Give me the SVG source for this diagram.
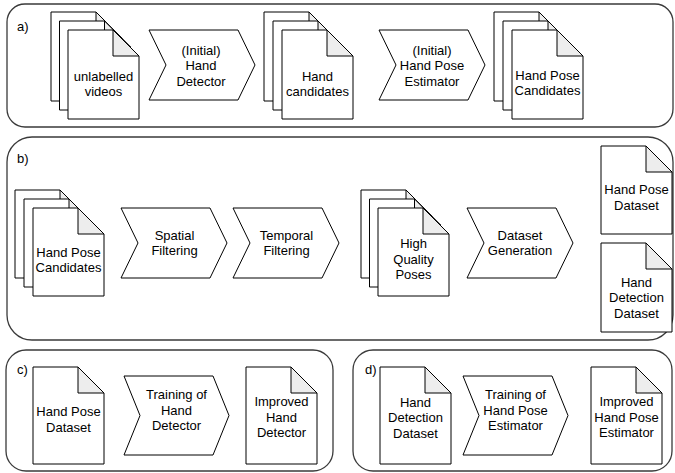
<svg xmlns="http://www.w3.org/2000/svg" width="675" height="473" viewBox="0 0 675 473">
<style>
.panel{fill:#fff;stroke:#3a3a3a;stroke-width:1.3}
.doc{fill:#fff;stroke:#000;stroke-width:1}
.fold{fill:#ededed;stroke:#000;stroke-width:1;stroke-linejoin:round}
.chev{fill:#fff;stroke:#000;stroke-width:1}
text{font-family:"Liberation Sans",Arial,sans-serif;font-size:13px;fill:#000;text-anchor:middle}
.lbl{text-anchor:start}
</style>
<defs>
<g id="docA">
<path class="doc" d="M0,0H45L71,26V89H0Z"/>
<path class="fold" d="M45,0V26H71Z"/>
</g>
<g id="docB">
<path class="doc" d="M0,0H45L71,26V88H0Z"/>
<path class="fold" d="M45,0V26H71Z"/>
</g>
<g id="docC">
<path class="doc" d="M0,0H45L71,26V97H0Z"/>
<path class="fold" d="M45,0V26H71Z"/>
</g>
<path id="chevA" class="chev" d="M0,0H89L106,35L89,70H0L17,35Z"/>
<path id="chevC" class="chev" d="M0,0H89L105,39.5L89,79H0L16,39.5Z"/>
</defs>

<g id="panel-a">
<rect class="panel" x="7" y="4" width="666" height="123" rx="18" ry="18"/>
<text class="lbl" x="17" y="31">a)</text>
</g>
<g id="panel-b">
<rect class="panel" x="7" y="137" width="666" height="203" rx="25" ry="25"/>
<text class="lbl" x="17" y="163">b)</text>
</g>
<g id="panel-c">
<rect class="panel" x="6" y="350" width="327" height="121" rx="20" ry="20"/>
<text class="lbl" x="17" y="374">c)</text>
</g>
<g id="panel-d">
<rect class="panel" x="353" y="350" width="319" height="121" rx="20" ry="20"/>
<text class="lbl" x="365" y="374">d)</text>
</g>

<g id="connectors"></g>

<g id="a-unlabelled-videos">
<use href="#docA" x="51" y="12"/>
<use href="#docA" x="59.5" y="21"/>
<use href="#docA" x="68" y="30"/>
<text x="103.5" y="81">unlabelled</text>
<text x="103.5" y="96">videos</text>
</g>
<g id="a-hand-detector">
<use href="#chevA" x="149" y="30"/>
<text x="201" y="54.5">(Initial)</text>
<text x="201" y="70">Hand</text>
<text x="201" y="85.5">Detector</text>
</g>
<g id="a-hand-candidates">
<use href="#docA" x="264" y="12"/>
<use href="#docA" x="273" y="21"/>
<use href="#docA" x="282" y="30"/>
<text x="317.5" y="81">Hand</text>
<text x="317.5" y="96">candidates</text>
</g>
<g id="a-hand-pose-estimator">
<use href="#chevA" x="379" y="30"/>
<text x="432" y="54.5">(Initial)</text>
<text x="432" y="70">Hand Pose</text>
<text x="432" y="85.5">Estimator</text>
</g>
<g id="a-hand-pose-candidates">
<use href="#docA" x="494" y="12"/>
<use href="#docA" x="503" y="21"/>
<use href="#docA" x="512" y="30"/>
<text x="547.5" y="80">Hand Pose</text>
<text x="547.5" y="95">Candidates</text>
</g>

<g id="b-hand-pose-candidates">
<use href="#docB" x="15" y="190"/>
<use href="#docB" x="24" y="199"/>
<use href="#docB" x="33" y="208"/>
<text x="68.5" y="257">Hand Pose</text>
<text x="68.5" y="272">Candidates</text>
</g>
<g id="b-spatial-filtering">
<use href="#chevA" x="121" y="208"/>
<text x="174.5" y="239.5">Spatial</text>
<text x="174.5" y="255">Filtering</text>
</g>
<g id="b-temporal-filtering">
<use href="#chevA" x="233" y="208"/>
<text x="286.5" y="239.5">Temporal</text>
<text x="286.5" y="255">Filtering</text>
</g>
<g id="b-high-quality-poses">
<use href="#docB" x="361" y="190"/>
<use href="#docB" x="369.5" y="199"/>
<use href="#docB" x="378" y="208"/>
<text x="413.5" y="248">High</text>
<text x="413.5" y="263.5">Quality</text>
<text x="413.5" y="279">Poses</text>
</g>
<g id="b-dataset-generation">
<use href="#chevA" x="467" y="208"/>
<text x="520" y="239.5">Dataset</text>
<text x="520" y="255">Generation</text>
</g>
<g id="b-hand-pose-dataset">
<use href="#docB" x="601" y="146"/>
<text x="636.5" y="194">Hand Pose</text>
<text x="636.5" y="210">Dataset</text>
</g>
<g id="b-hand-detection-dataset">
<use href="#docA" x="601" y="243"/>
<text x="636.5" y="286.5">Hand</text>
<text x="636.5" y="302">Detection</text>
<text x="636.5" y="317.5">Dataset</text>
</g>

<g id="c-hand-pose-dataset">
<use href="#docC" x="33" y="367"/>
<text x="68.5" y="416">Hand Pose</text>
<text x="68.5" y="431.5">Dataset</text>
</g>
<g id="c-training">
<use href="#chevC" x="124" y="376"/>
<text x="176.5" y="399">Training of</text>
<text x="176.5" y="414.5">Hand</text>
<text x="176.5" y="430">Detector</text>
</g>
<g id="c-improved-hand-detector">
<use href="#docC" x="246" y="367"/>
<text x="281.5" y="406">Improved</text>
<text x="281.5" y="421.5">Hand</text>
<text x="281.5" y="437">Detector</text>
</g>

<g id="d-hand-detection-dataset">
<use href="#docC" x="380" y="367"/>
<text x="415.5" y="406.5">Hand</text>
<text x="415.5" y="422">Detection</text>
<text x="415.5" y="437.5">Dataset</text>
</g>
<g id="d-training">
<use href="#chevC" x="463" y="376"/>
<text x="515.5" y="399">Training of</text>
<text x="515.5" y="414.5">Hand Pose</text>
<text x="515.5" y="430">Estimator</text>
</g>
<g id="d-improved-hand-pose-estimator">
<use href="#docC" x="591" y="367"/>
<text x="626.5" y="406">Improved</text>
<text x="626.5" y="421.5">Hand Pose</text>
<text x="626.5" y="437">Estimator</text>
</g>
</svg>
